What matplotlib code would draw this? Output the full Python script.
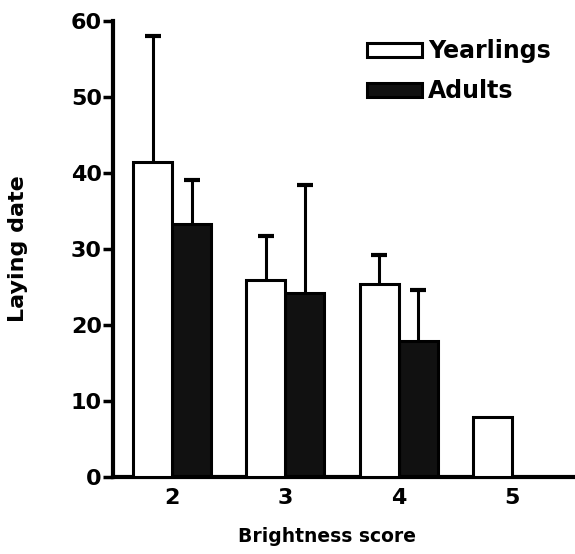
import numpy as np
import matplotlib
matplotlib.use("Agg")
import matplotlib.pyplot as plt

plt.rcParams['font.family'] = ['DejaVu Sans']
plt.rcParams['font.weight'] = 'bold'

# Data
scores = [2, 3, 4, 5]
yearlings = [41.4, 25.9, 25.4, 7.9]
yearlings_err = [16.6, 5.8, 3.8, np.nan]
adults = [33.3, 24.2, 17.9, np.nan]
adults_err = [5.8, 14.2, 6.7, np.nan]

x = np.array(scores, dtype=float)
w = 0.345

fig = plt.figure(figsize=(5.75, 5.54), dpi=100)
ax = fig.add_axes([0.1965, 0.139, 0.8035, 0.823])

err_style = dict(ecolor="black", elinewidth=2.2, capsize=5.5, capthick=3)
b1 = ax.bar(x - w / 2, yearlings, w, color="white", edgecolor="black", linewidth=2.2,
            yerr=[np.zeros(4), yearlings_err], error_kw=err_style,
            label="Yearlings", zorder=3)
b2 = ax.bar(x + w / 2, adults, w, color="#111111", edgecolor="black", linewidth=2.2,
            yerr=[np.zeros(4), adults_err], error_kw=err_style,
            label="Adults", zorder=2)

# only upper error bars: hide the cap sitting on top of each bar
for b in (b1, b2):
    caps = b.errorbar.lines[1]
    caps[0].set_visible(False)

ax.set_xlim(1.478, 5.557)
ax.set_ylim(0, 60)
ax.set_yticks([0, 10, 20, 30, 40, 50, 60])
ax.set_xticks(scores)

for s in ["top", "right"]:
    ax.spines[s].set_visible(False)
for s in ["left", "bottom"]:
    ax.spines[s].set_linewidth(3)

ax.tick_params(axis="y", direction="out", length=7, width=2.5, labelsize=16, pad=1)
ax.tick_params(axis="x", direction="out", length=0, labelsize=16, pad=8)

ax.set_ylabel("Laying date", fontsize=16, fontweight="bold")
ax.yaxis.set_label_coords(-0.184, 0.5)
ax.set_xlabel("Brightness score", fontsize=13.5, fontweight="bold")
ax.xaxis.set_label_coords(0.463, -0.11)

leg = ax.legend(loc="upper left", bbox_to_anchor=(0.55, 0.96), frameon=False, fontsize=17,
                handlelength=2.33, handleheight=0.55, handletextpad=0.25, labelspacing=0.68,
                borderaxespad=0, borderpad=0)

plt.savefig("out.png", dpi=100)
